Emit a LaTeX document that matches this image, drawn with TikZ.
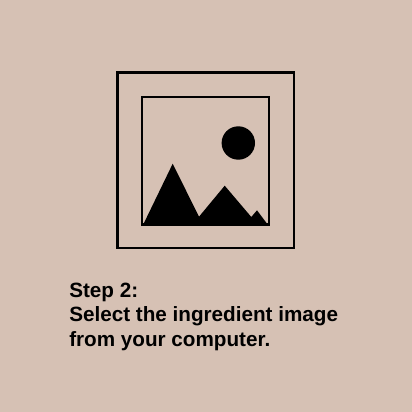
\documentclass[tikz,border=0pt]{standalone}
\usepackage{fontspec}
\setmainfont{Liberation Sans}
\definecolor{paper}{HTML}{D6C1B4}
\definecolor{ink}{HTML}{000000}

\begin{document}
\begin{tikzpicture}[
  x=.025cm, y=-.025cm,
  frame/.style={draw=ink, line width=.06cm},
  solid shape/.style={fill=ink, draw=none},
  caption/.style={anchor=north west, align=left, inner sep=0pt, text=ink,
    font=\fontsize{14.7pt}{17.1pt}\selectfont\bfseries}
]
\fill[paper] (0,0) rectangle (412,412);
\useasboundingbox (0,0) rectangle (412,412);

% Picture icon: outer frame, inner frame, sun and hills.
\draw[frame] (117.6,72.6) rectangle (293.7,247.8);
\draw[frame] (141.8,96.8) rectangle (269.2,224.6);
\fill[solid shape] (238.3,143) circle (16.7);
\fill[solid shape] (143,225) -- (172.7,163.7) -- (199,216.7) -- (224.7,185.7)
  -- (251.3,217) -- (257,210.3) -- (268,225) -- cycle;

\node[caption] (step) at (69,283.2) {Step 2:\\Select the ingredient image\\from your computer.};
\end{tikzpicture}
\end{document}
